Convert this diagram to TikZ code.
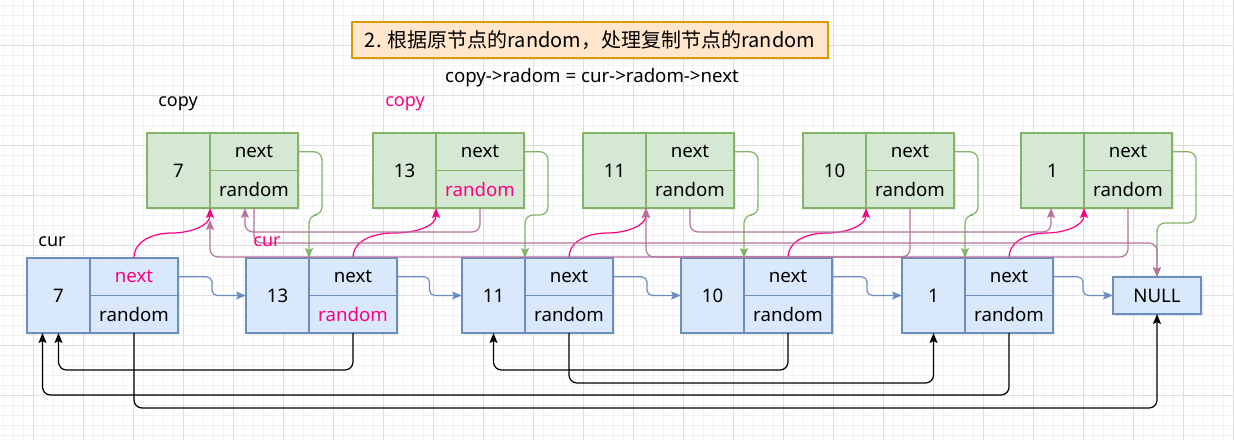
\documentclass[tikz,border=0pt]{standalone}
\usepackage{fontspec}
\setmainfont{Noto Sans}
\newfontfamily\cjk{Noto Sans CJK SC}
\usetikzlibrary{arrows.meta, positioning, calc, shadows}

\definecolor{copyfill}{HTML}{D5E8D4}
\definecolor{copyline}{HTML}{82B366}
\definecolor{curfill}{HTML}{DAE8FC}
\definecolor{curline}{HTML}{6C8EBF}
\definecolor{hotpink}{HTML}{FF0080}
\definecolor{mauve}{HTML}{B5739D}
\definecolor{notefill}{HTML}{FFE6CC}
\definecolor{noteline}{HTML}{D79B00}

\tikzset{
  listcell/.style={draw, line width=0.9pt, inner sep=0pt, outer sep=0pt,
    font=\fontsize{14}{16}\selectfont,
    drop shadow={shadow xshift=1.8pt, shadow yshift=-1.8pt, opacity=0.15}},
  valcell/.style={listcell, minimum width=47.25pt, minimum height=56.25pt, anchor=north west},
  fldcell/.style={listcell, minimum width=66pt, minimum height=28.125pt},
  copybox/.style={fill=copyfill, draw=copyline},
  curbox/.style={fill=curfill, draw=curline},
  notebox/.style={fill=notefill, draw=noteline, line width=0.9pt, minimum width=357pt,
    minimum height=27pt, font=\cjk\fontsize{15}{18}\selectfont,
    drop shadow={shadow xshift=1.8pt, shadow yshift=-1.8pt, opacity=0.15}},
  lbl/.style={font=\fontsize{13.5}{16}\selectfont, inner sep=1pt},
  link/.style={line width=0.9pt, -{Stealth[length=7.5pt, width=6pt, inset=1.5pt]}},
  bluelink/.style={link, curline, rounded corners=4pt},
  greenlink/.style={link, copyline, rounded corners=6pt},
  pinklink/.style={link, hotpink},
  mauvelink/.style={link, mauve, rounded corners=6pt},
  blacklink/.style={link, black, rounded corners=6pt},
  gridminor/.style={line width=0.4pt, black!5},
  gridmajor/.style={line width=0.5pt, black!13}
}

\begin{document}
\begin{tikzpicture}[x=0.75pt, y=-0.75pt]
  \useasboundingbox (0,0) rectangle (1234,440);
  % background grid
  \fill[white] (0,0) rectangle (1234,440);
  \foreach \gx in {3,13,...,1233} \draw[gridminor] (\gx,0) -- (\gx,440);
  \foreach \gy in {5,15,...,435} \draw[gridminor] (0,\gy) -- (1234,\gy);
  \foreach \gx in {33,83,...,1233} \draw[gridmajor] (\gx,0) -- (\gx,440);
  \foreach \gy in {45,95,...,395} \draw[gridmajor] (0,\gy) -- (1234,\gy);

  % title and formula
  \node[notebox] (title) at (590,40) {2. 根据原节点的random，处理复制节点的random};
  \node[font=\fontsize{14}{17}\selectfont] (formula) at (592,78) {copy->radom = cur->radom->next};

  % copied nodes
  \foreach \nm/\x/\v/\rcol in {c1/147/7/black, c2/373/13/hotpink, c3/583/11/black, c4/803/10/black, c5/1021/1/black} {
    \node[valcell, copybox] (\nm v) at (\x,133) {\v};
    \node[fldcell, copybox, anchor=north west] (\nm n) at (\nm v.north east) {next};
    \node[fldcell, copybox, below=0pt of \nm n, text=\rcol] (\nm r) {random};
  }

  % original nodes
  \foreach \nm/\x/\v/\ncol/\rcol in {k1/27/7/hotpink/black, k2/246/13/black/hotpink, k3/462/11/black/black, k4/681/10/black/black, k5/902/1/black/black} {
    \node[valcell, curbox] (\nm v) at (\x,258) {\v};
    \node[fldcell, curbox, anchor=north west, text=\ncol] (\nm n) at (\nm v.north east) {next};
    \node[fldcell, curbox, below=0pt of \nm n, text=\rcol] (\nm r) {random};
  }
  \node[fldcell, curbox, anchor=north west, minimum height=27.75pt] (null) at (1113,277) {NULL};

  % next of original nodes
  \foreach \p/\q in {k1/k2, k2/k3, k3/k4, k4/k5}
    \draw[bluelink] (\p n.east) -| ($(\p n.east)!.5!(\q v.west)$) |- (\q v.west);
  \draw[bluelink] (k5n.east) -| ($(k5n.east)!.5!(null.west)$) |- (null.west);

  % next of copied nodes
  \foreach \p/\q in {c1/k2, c2/k3, c3/k4, c4/k5}
    \draw[greenlink] (\p n.east) -- ++(24,0) |- ($(\q v.north east)+(0,-43)$) -- (\q v.north east);
  \draw[greenlink] (c5n.east) -- ++(24,0) |- ($(null.north)+(0,-54)$) -- (null.north);

  % random of original nodes
  \draw[blacklink] (k1r.south) |- ($(null.south)+(0,94)$) -- (null.south);
  \draw[blacklink] (k2r.south) |- ($(k1v.south)+(0,37)$) -- (k1v.south);
  \draw[blacklink] (k3r.south) |- ($(k5v.south)+(0,50)$) -- (k5v.south);
  \draw[blacklink] (k4r.south) |- ($(k3v.south)+(0,37)$) -- (k3v.south);
  \draw[blacklink] (k5r.south) |- ($(k1v.south)+(-16,62)$) -- ($(k1v.south)+(-16,0)$);

  % cur->next = copy
  \foreach \p/\q in {k1/c1, k2/c2, k3/c3, k4/c4, k5/c5}
    \draw[pinklink] (\p n.north) to[out=90, in=180] ($(\p n.north)!.5!(\q v.south east)$)
      to[out=0, in=-90] (\q v.south east);

  % random of copied nodes
  \draw[mauvelink] (c1r.south) |- ($(null.north)+(0,-34)$) -- (null.north);
  \draw[mauvelink] (c2r.south) |- ($(c1v.south east)+(35,24)$) -- ($(c1v.south east)+(35,0)$);
  \draw[mauvelink, shorten >=9pt] (c5r.south) |- ($(c1v.south east)+(0,49)$) -- (c1v.south east);
  \draw[mauvelink] (c3r.south) |- ($(c5v.south east)+(-33,24)$) -- ($(c5v.south east)+(-33,0)$);
  \draw[mauvelink] (c4r.south) |- ($(c3v.south east)+(0,49)$) -- (c3v.south east);

  % labels
  \node[lbl] (copylbl) at (178,104) {copy};
  \node[lbl, text=hotpink] (copylbl2) at (405,104) {copy};
  \node[lbl] (curlbl) at (52,242) {cur};
  \node[lbl, text=hotpink] (curlbl2) at (267,242) {cur};
\end{tikzpicture}
\end{document}
